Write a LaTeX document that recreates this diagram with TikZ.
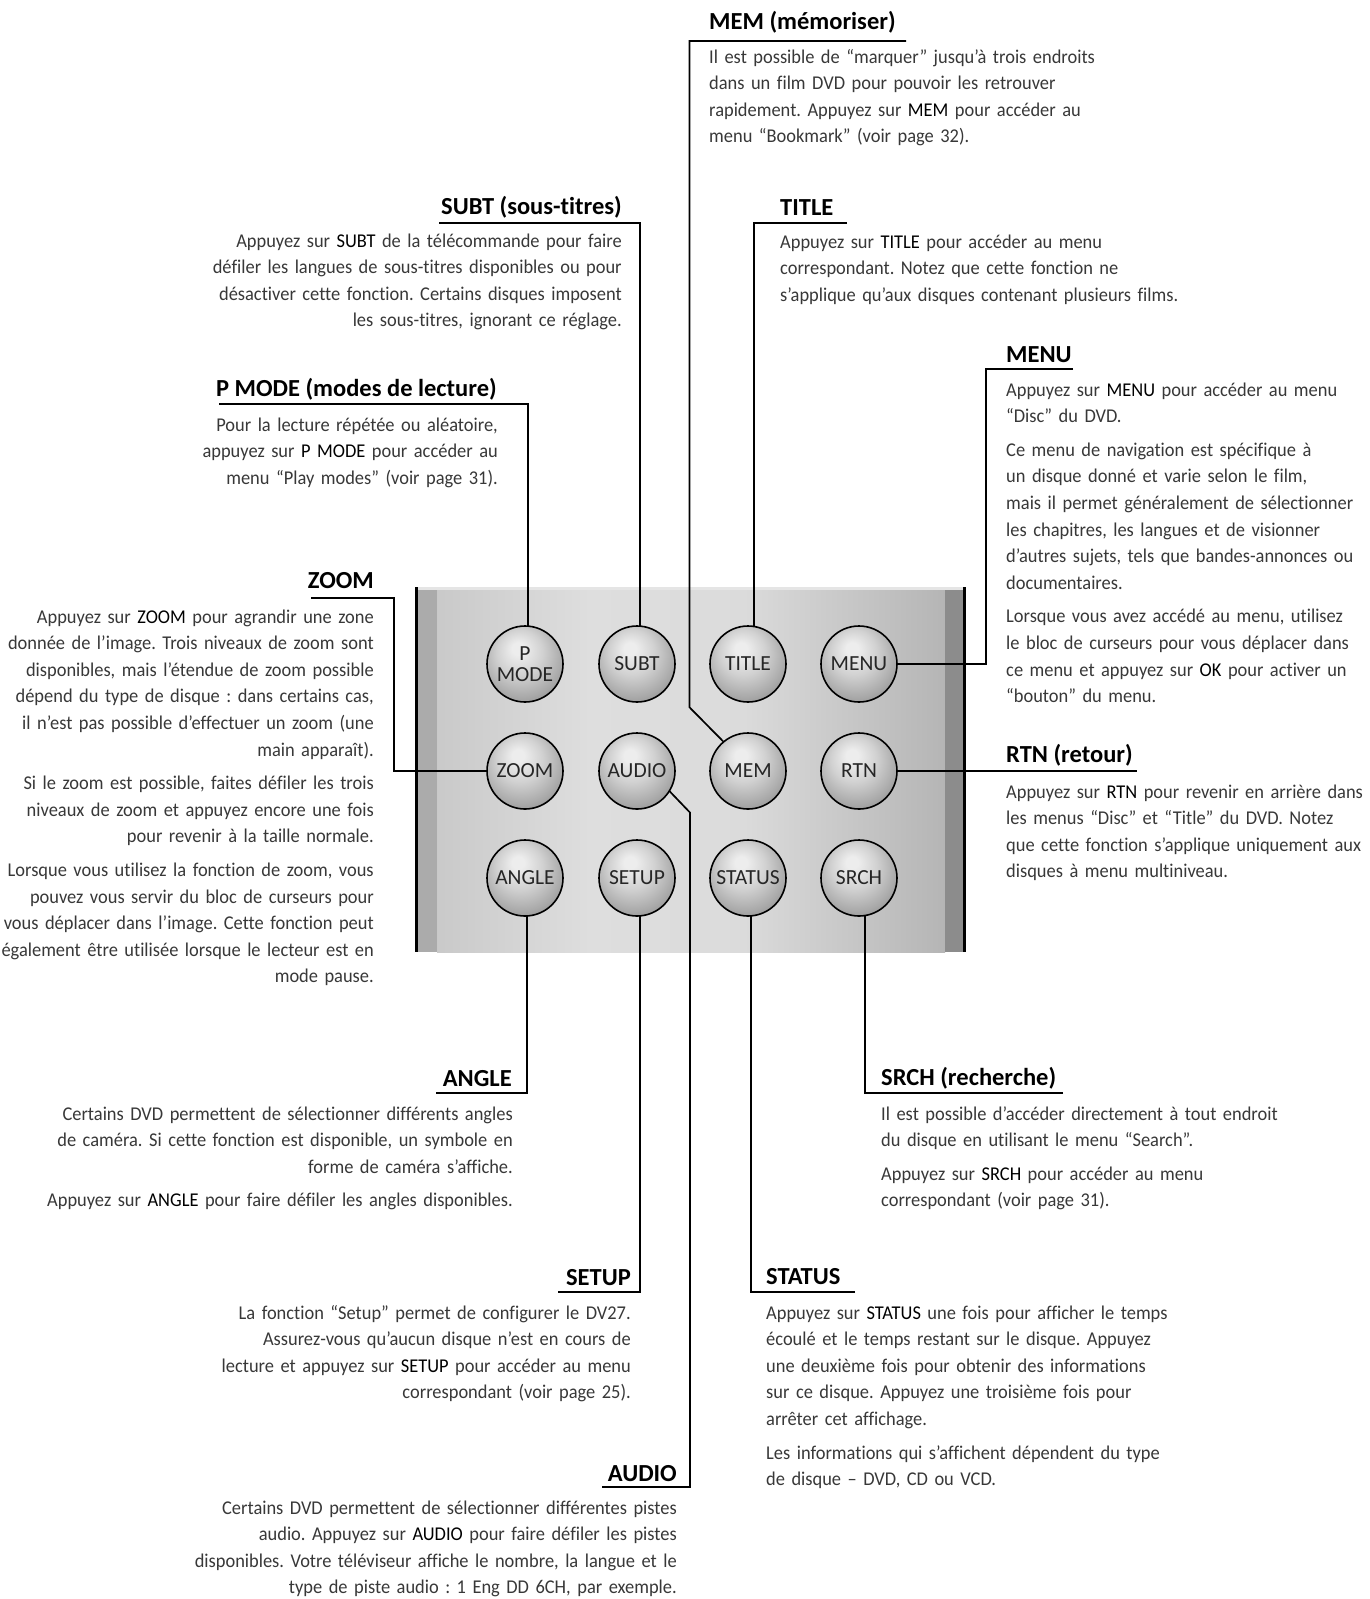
\documentclass[tikz,border=0pt]{standalone}
\usepackage{fontspec}
\setmainfont{Carlito}[Ligatures=CommonOff]
\newfontfamily\bodyff{Carlito}[FakeStretch=0.945, Ligatures=CommonOff]
\newfontfamily\headff{Carlito}[Ligatures=CommonOff]
\usetikzlibrary{calc}

\definecolor{txtgray}{gray}{0.22}
\definecolor{kwcol}{gray}{0.0}
\definecolor{pnlStripL}{gray}{0.67}
\definecolor{pnlA}{gray}{0.79}
\definecolor{pnlB}{gray}{0.87}
\definecolor{pnlC}{gray}{0.86}
\definecolor{pnlD}{gray}{0.71}
\definecolor{pnlStripR}{gray}{0.55}
\definecolor{pnlTop}{gray}{0.90}
\definecolor{btA}{gray}{0.93}
\definecolor{btB}{gray}{0.82}
\definecolor{btC}{gray}{0.66}
\definecolor{btD}{gray}{0.52}
\definecolor{btE}{gray}{0.44}

\pgfdeclarehorizontalshading{panelshade}{100bp}{color(0bp)=(pnlA); color(25bp)=(pnlA); color(40bp)=(pnlB); color(55bp)=(pnlC); color(75bp)=(pnlD); color(100bp)=(pnlD)}
\pgfdeclareradialshading{btnshade}{\pgfpoint{-5bp}{11bp}}{color(0bp)=(btA); color(4bp)=(btA); color(15bp)=(btB); color(27bp)=(btC); color(36bp)=(btD); color(50bp)=(btE)}

\pgfdeclarelayer{bg}
\pgfsetlayers{bg,main}

\newcommand{\kw}[1]{{\color{kwcol}#1}}
\newcommand{\bodyfnt}{\bodyff\fontsize{19.5}{26.6}\selectfont\frenchspacing}
\newcommand{\headfnt}{\headff\fontsize{24.5}{27}\selectfont\bfseries}
\newcommand{\btnfnt}{\headff\fontsize{21.5}{21}\selectfont}

\begin{document}
\begin{tikzpicture}[x=1pt,y=-1pt,
  conn/.style={line width=1.7pt, black},
  head/.style={font=\headfnt, inner sep=0pt, text=black},
  headL/.style={head, anchor=base west},
  headR/.style={head, anchor=base east},
  body/.style={font=\bodyfnt, inner sep=0pt, text=txtgray, text width=600pt},
  bodyL/.style={body, align=left, anchor=base west},
  bodyR/.style={body, align=right, anchor=base east},
  btn/.style={circle, minimum size=76pt, inner sep=0pt, draw=black, line width=1.6pt,
    shade, shading=btnshade, font=\btnfnt, text=black!85, align=center}
]
\useasboundingbox (0,0) rectangle (1370,1599);

% ---------- panel ----------
\begin{pgfonlayer}{bg}
\fill[white] (0,0) rectangle (1370,1599);
\shade[shading=panelshade] (437,587) rectangle (945,952);
\fill[pnlStripL] (416,587) rectangle (437,952);
\fill[pnlStripR] (945,587) rectangle (964,952);
\fill[pnlTop] (416,587) rectangle (964,590);
\draw[line width=3pt] (416.5,587) -- (416.5,952);
\draw[line width=3pt] (964.5,587) -- (964.5,952);
\end{pgfonlayer}

% ---------- buttons ----------
\node[btn] (pmode)  at (525,664) {P\\MODE};
\node[btn] (subt)   at (637,664) {SUBT};
\node[btn] (title)  at (748,664) {TITLE};
\node[btn] (menu)   at (859,664) {MENU};
\node[btn] (zoom)   at (525,771) {ZOOM};
\node[btn] (audio)  at (637,771) {AUDIO};
\node[btn] (mem)    at (748,771) {MEM};
\node[btn] (rtn)    at (859,771) {RTN};
\node[btn] (angle)  at (525,878) {ANGLE};
\node[btn] (setup)  at (637,878) {SETUP};
\node[btn] (status) at (748,878) {STATUS};
\node[btn] (srch)   at (859,878) {SRCH};

% ---------- connector end points ----------
\coordinate (memR)    at (906,41);
\coordinate (memL)    at (689.5,41);
\coordinate (memK)    at ($(mem.130)+(-34,-34)$);
\coordinate (subtL)   at (439,223);
\coordinate (titleR)  at (847,223);
\coordinate (menuR)   at (1073,369);
\coordinate (menuL)   at (986,369);
\coordinate (pmodeL)  at (219,404);
\coordinate (zoomL)   at (311,598);
\coordinate (zoomR)   at (394,598);
\coordinate (rtnR)    at (1137,771);
\coordinate (angleL)  at (436,1093);
\coordinate (srchR)   at (1063,1093);
\coordinate (setupL)  at (558,1292);
\coordinate (statusR) at (855,1292);
\coordinate (audioL)  at (602,1487);
\coordinate (audioB)  at (690,1487);
\coordinate (audioK)  at ($(audio.-32)+(21,21)$);

\begin{pgfonlayer}{bg}
\draw[conn] (memR) -- (memL) -- (memL |- memK) -- (mem.130);
\draw[conn] (subtL) -| ([xshift=3pt]subt.center);
\draw[conn] (titleR) -| ([xshift=6pt]title.center);
\draw[conn] (menuR) -- (menuL) |- (menu.center);
\draw[conn] (pmodeL) -| ([xshift=3pt]pmode.center);
\draw[conn] (zoomL) -- (zoomR) |- (zoom.center);
\draw[conn] (rtn.center) -- (rtn.center -| rtnR);
\draw[conn] (angleL) -| ([xshift=2pt]angle.center);
\draw[conn] (srchR) -| ([xshift=6pt]srch.center);
\draw[conn] (setupL) -| ([xshift=3pt]setup.center);
\draw[conn] (statusR) -| ([xshift=3pt]status.center);
\draw[conn] (audioL) -- (audioB) -- (audioB |- audioK) -- (audio.-32);
\end{pgfonlayer}

% ---------- texts ----------
\node[headL] (hmem) at (709,29) {MEM (mémoriser)};
\node[bodyL] (tmem) at (709,63) {Il est possible de “marquer” jusqu’à trois endroits\\
dans un film DVD pour pouvoir les retrouver\\
rapidement. Appuyez sur \kw{MEM} pour accéder au\\
menu “Bookmark” (voir page 32).};

\node[headR] (hsubt) at (622,214) {SUBT (sous-titres)};
\node[bodyR] (tsubt) at (622,247) {Appuyez sur \kw{SUBT} de la télécommande pour faire\\
défiler les langues de sous-titres disponibles ou pour\\
désactiver cette fonction. Certains disques imposent\\
les sous-titres, ignorant ce réglage.};

\node[headL] (htitle) at (780,215) {TITLE};
\node[bodyL] (ttitle) at (780,248) {Appuyez sur \kw{TITLE} pour accéder au menu\\
correspondant. Notez que cette fonction ne\\
s’applique qu’aux disques contenant plusieurs films.};

\node[headL] (hmenu) at (1006,362) {MENU};
\node[bodyL] (tmenu) at (1006,396) {Appuyez sur \kw{MENU} pour accéder au menu\\
“Disc” du DVD.\\[7pt]
Ce menu de navigation est spécifique à\\
un disque donné et varie selon le film,\\
mais il permet généralement de sélectionner\\
les chapitres, les langues et de visionner\\
d’autres sujets, tels que bandes-annonces ou\\
documentaires.\\[7pt]
Lorsque vous avez accédé au menu, utilisez\\
le bloc de curseurs pour vous déplacer dans\\
ce menu et appuyez sur \kw{OK} pour activer un\\
“bouton” du menu.};

\node[headR] (hpmode) at (497,396) {P MODE (modes de lecture)};
\node[bodyR] (tpmode) at (498,431) {Pour la lecture répétée ou aléatoire,\\
appuyez sur \kw{P MODE} pour accéder au\\
menu “Play modes” (voir page 31).};

\node[headR] (hzoom) at (374,588) {ZOOM};
\node[bodyR] (tzoom) at (374,623) {Appuyez sur \kw{ZOOM} pour agrandir une zone\\
donnée de l’image. Trois niveaux de zoom sont\\
disponibles, mais l’étendue de zoom possible\\
dépend du type de disque : dans certains cas,\\
il n’est pas possible d’effectuer un zoom (une\\
main apparaît).\\[7pt]
Si le zoom est possible, faites défiler les trois\\
niveaux de zoom et appuyez encore une fois\\
pour revenir à la taille normale.\\[7pt]
Lorsque vous utilisez la fonction de zoom, vous\\
pouvez vous servir du bloc de curseurs pour\\
vous déplacer dans l’image. Cette fonction peut\\
également être utilisée lorsque le lecteur est en\\
mode pause.};

\node[headL] (hrtn) at (1006,762) {RTN (retour)};
\node[bodyL] (trtn) at (1006,798) {Appuyez sur \kw{RTN} pour revenir en arrière dans\\
les menus “Disc” et “Title” du DVD. Notez\\
que cette fonction s’applique uniquement aux\\
disques à menu multiniveau.};

\node[headR] (hangle) at (512,1086) {ANGLE};
\node[bodyR] (tangle) at (513,1120) {Certains DVD permettent de sélectionner différents angles\\
de caméra. Si cette fonction est disponible, un symbole en\\
forme de caméra s’affiche.\\[7pt]
Appuyez sur \kw{ANGLE} pour faire défiler les angles disponibles.};

\node[headL] (hsrch) at (881,1085) {SRCH (recherche)};
\node[bodyL] (tsrch) at (881,1120) {Il est possible d’accéder directement à tout endroit\\
du disque en utilisant le menu “Search”.\\[7pt]
Appuyez sur \kw{SRCH} pour accéder au menu\\
correspondant (voir page 31).};

\node[headR] (hsetup) at (631,1285) {SETUP};
\node[bodyR] (tsetup) at (631,1319) {La fonction “Setup” permet de configurer le DV27.\\
Assurez-vous qu’aucun disque n’est en cours de\\
lecture et appuyez sur \kw{SETUP} pour accéder au menu\\
correspondant (voir page 25).};

\node[headL] (hstatus) at (766,1284) {STATUS};
\node[bodyL] (tstatus) at (766,1319) {Appuyez sur \kw{STATUS} une fois pour afficher le temps\\
écoulé et le temps restant sur le disque. Appuyez\\
une deuxième fois pour obtenir des informations\\
sur ce disque. Appuyez une troisième fois pour\\
arrêter cet affichage.\\[7pt]
Les informations qui s’affichent dépendent du type\\
de disque – DVD, CD ou VCD.};

\node[headR] (haudio) at (677,1481) {AUDIO};
\node[bodyR] (taudio) at (677,1514) {Certains DVD permettent de sélectionner différentes pistes\\
audio. Appuyez sur \kw{AUDIO} pour faire défiler les pistes\\
disponibles. Votre téléviseur affiche le nombre, la langue et le\\
type de piste audio : 1 Eng DD 6CH, par exemple.};
\end{tikzpicture}
\end{document}
